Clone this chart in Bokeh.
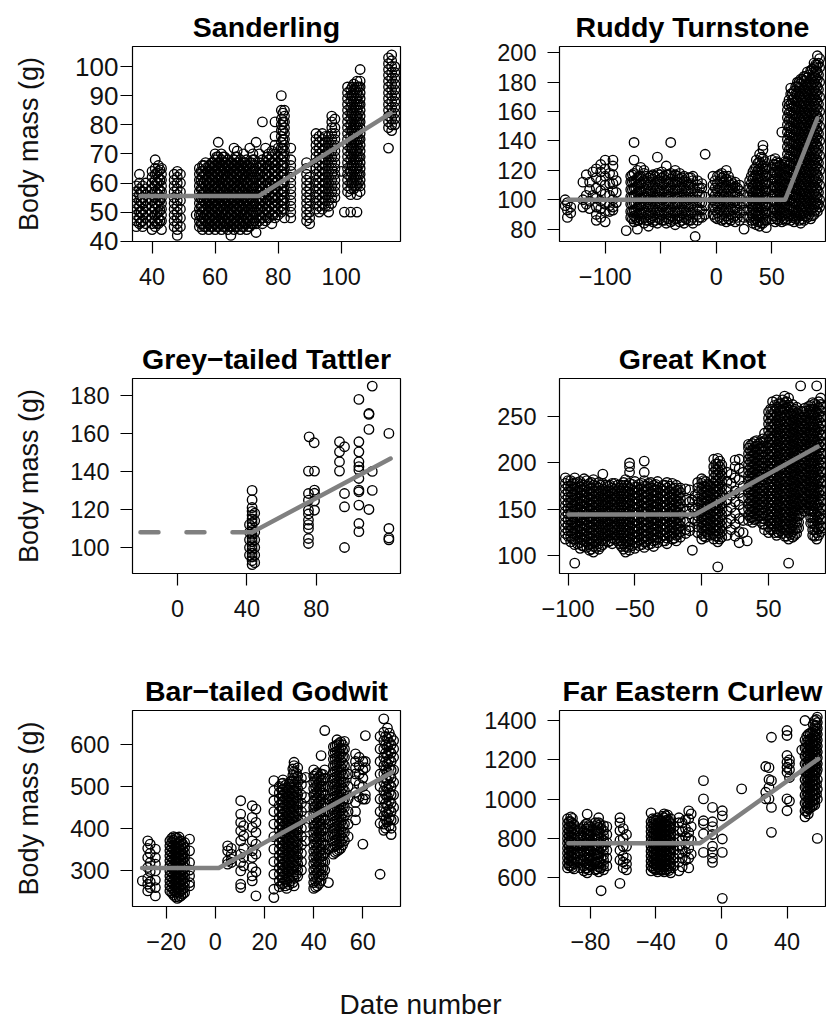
from bokeh.plotting import figure
from bokeh.layouts import gridplot, column
from bokeh.models import FixedTicker, Range1d, Label
from bokeh.embed import file_html
from bokeh.resources import INLINE

FONT = "Liberation Sans"

# ---------------- Sanderling ----------------
sand_day = [35, 36, 37, 38, 40, 41, 42, 43, 47, 48, 49, 54,
            55, 56, 57, 58, 59, 60, 61, 62, 63, 64, 65, 66, 67, 68, 69, 70, 71, 72, 73,
            74, 75, 76, 77, 78, 79, 80, 81, 82, 84, 89, 90,
            92, 93, 94, 95, 96, 97, 98, 100, 101, 103, 105,
            102, 103, 104, 105, 106, 115, 116, 117]
sand_mass = [
    [45, 47, 49, 51, 53, 55, 57, 59],
    [46, 48, 50, 52, 54, 56, 58, 60, 63],
    [45, 47, 49, 51, 53, 55, 57, 59],
    [46, 48, 50, 52, 54, 56, 58, 60],
    [44, 46, 48, 50, 52, 54, 56, 58, 60, 62, 64],
    [45, 47, 49, 51, 53, 55, 57, 59, 61, 63, 65, 68],
    [46, 48, 50, 52, 54, 56, 58, 60, 62, 64, 66],
    [44, 47, 49, 51, 53, 55, 57, 59, 61, 63, 65],
    [45, 47, 49, 51, 53, 55, 57, 59, 61, 63],
    [42, 44, 46, 48, 50, 52, 54, 56, 58, 60, 62, 64],
    [45, 48, 51, 54, 57, 60, 63],
    [49],
    [45, 47, 49, 51, 53, 55, 57, 59, 61, 63, 65],
    [44, 46, 48, 50, 52, 54, 56, 58, 60, 62, 64, 66],
    [45, 47, 49, 51, 53, 55, 57, 59, 61, 63, 65, 67],
    [44, 46, 48, 50, 52, 54, 56, 58, 60, 62, 64, 66],
    [45, 47, 49, 51, 53, 55, 57, 59, 61, 63, 65, 67],
    [44, 46, 48, 50, 52, 54, 56, 58, 60, 62, 64, 66, 68, 70],
    [45, 47, 49, 51, 53, 55, 57, 59, 61, 63, 65, 67, 69, 74],
    [44, 46, 48, 50, 52, 54, 56, 58, 60, 62, 64, 66, 68, 70],
    [45, 47, 49, 51, 53, 55, 57, 59, 61, 63, 65, 67, 69],
    [44, 46, 48, 50, 52, 54, 56, 58, 60, 62, 64, 66, 68],
    [42, 45, 47, 49, 51, 53, 55, 57, 59, 61, 63, 65, 67],
    [44, 46, 48, 50, 52, 54, 56, 58, 60, 62, 64, 66, 68, 72],
    [45, 47, 49, 51, 53, 55, 57, 59, 61, 63, 65, 67, 69, 71],
    [44, 46, 48, 50, 52, 54, 56, 58, 60, 62, 64, 66, 68],
    [45, 47, 49, 51, 53, 55, 57, 59, 61, 63, 65, 67, 70],
    [44, 46, 48, 50, 52, 54, 56, 58, 60, 62, 64, 66, 68],
    [45, 47, 49, 51, 53, 55, 57, 59, 61, 63, 65, 67, 72],
    [46, 48, 50, 52, 54, 56, 58, 60, 62, 64, 66, 68, 70],
    [43, 46, 48, 50, 52, 54, 56, 58, 60, 62, 64, 66, 74],
    [47, 49, 51, 53, 55, 57, 59, 61, 63, 65, 67, 70],
    [46, 48, 50, 52, 54, 56, 58, 60, 62, 64, 66, 68, 81],
    [47, 49, 51, 53, 55, 57, 59, 61, 63, 65, 67, 72],
    [48, 50, 52, 54, 56, 58, 60, 62, 64, 66, 68, 70],
    [46, 49, 51, 53, 55, 57, 59, 61, 63, 65, 67, 69, 71],
    [48, 50, 52, 54, 56, 58, 60, 62, 64, 66, 68, 70, 73, 76, 81],
    [49, 51, 53, 55, 57, 59, 61, 63, 65, 67, 69, 72],
    [50, 52, 54, 56, 58, 60, 62, 64, 66, 68, 70, 72, 74, 76, 78, 80, 82, 85, 90],
    [48, 51, 53, 55, 57, 59, 61, 63, 65, 67, 69, 71, 73, 75, 77, 79, 81, 83, 85],
    [48, 50, 52, 54, 56, 58, 60, 62, 64, 66, 68, 72],
    [47, 49, 51, 53, 55, 57, 59, 61, 63, 65, 67],
    [46, 48, 50, 52, 54, 56, 58, 60, 62],
    [51, 53, 55, 57, 59, 61, 63, 65, 67, 69, 71, 73, 75, 77],
    [50, 52, 54, 56, 58, 60, 62, 64, 66, 68, 70, 72, 74, 76],
    [51, 53, 55, 57, 59, 61, 63, 65, 67, 69, 71, 73, 75, 77],
    [52, 54, 56, 58, 60, 62, 64, 66, 68, 70, 72, 74, 76],
    [50, 52, 54, 56, 58, 60, 62, 64, 66, 68, 70, 72, 74, 76],
    [53, 55, 57, 59, 61, 63, 65, 67, 69, 71, 73, 75, 77, 79, 81, 83],
    [55, 57, 59, 61, 63, 65, 67, 69, 71, 73, 75, 77, 79, 82],
    [64],
    [50],
    [50],
    [50],
    [57, 59, 61, 63, 65, 67, 69, 71, 73, 75, 77, 79, 81, 83, 85, 87, 89, 91, 93],
    [56, 58, 60, 62, 64, 66, 68, 70, 72, 74, 76, 78, 80, 82, 84, 86, 88, 90, 92],
    [58, 60, 62, 64, 66, 68, 70, 72, 74, 76, 78, 80, 82, 84, 86, 88, 90, 92, 94],
    [56, 59, 61, 63, 65, 67, 69, 71, 73, 75, 77, 79, 81, 83, 85, 87, 89, 91, 93, 95],
    [57, 59, 61, 63, 65, 67, 69, 71, 73, 75, 77, 79, 81, 83, 85, 87, 89, 91, 93, 95, 99],
    [72, 79, 81, 83, 85, 87, 89, 91, 93, 95, 97, 99, 101, 103],
    [78, 80, 82, 84, 86, 88, 90, 92, 94, 96, 98, 100, 102, 104],
    [80, 82, 84, 86, 88, 90, 92, 94, 96, 98, 100],
]
# birds caught on the half-day columns of the densest catches
sand_day_b = [36.5, 41.5, 42.5, 55.5, 56.5, 57.5, 58.5, 59.5, 60.5, 61.5, 62.5, 63.5, 64.5,
              65.5, 66.5, 67.5, 68.5, 69.5, 70.5, 71.5, 72.5, 74.5, 76.5, 78.5, 81.5,
              103.5, 104.5, 105.5]
sand_mass_b = [
    [46.5, 50, 53.5, 57],
    [46, 49.5, 53, 56.5, 60, 63.5],
    [47, 50.5, 54, 57.5, 61, 64.5],
    [46, 49, 52, 55, 58, 61, 64],
    [45, 48, 51, 54, 57, 60, 63, 66],
    [46, 49, 52, 55, 58, 61, 64],
    [45, 48, 51, 54, 57, 60, 63, 66],
    [46, 49, 52, 55, 58, 61, 64, 67],
    [45, 48, 51, 54, 57, 60, 63, 66, 69],
    [46, 49, 52, 55, 58, 61, 64, 67],
    [45, 48, 51, 54, 57, 60, 63, 66, 69],
    [46, 49, 52, 55, 58, 61, 64, 67],
    [45, 48, 51, 54, 57, 60, 63, 66],
    [46, 49, 52, 55, 58, 61, 64, 67],
    [45, 48, 51, 54, 57, 60, 63, 66, 69],
    [46, 49, 52, 55, 58, 61, 64, 67],
    [45, 48, 51, 54, 57, 60, 63, 66],
    [46, 49, 52, 55, 58, 61, 64, 67],
    [45, 48, 51, 54, 57, 60, 63, 66],
    [46, 49, 52, 55, 58, 61, 64, 67],
    [47, 50, 53, 56, 59, 62, 65, 68],
    [48, 51, 54, 57, 60, 63, 66],
    [48, 51, 54, 57, 60, 63, 66, 69],
    [49, 52, 55, 58, 61, 64, 67],
    [51, 54, 57, 60, 63, 66, 69, 72, 75, 78, 81, 84],
    [60, 63, 66, 69, 72, 75, 78, 81, 84, 87, 90, 93],
    [59, 62, 65, 68, 71, 74, 77, 80, 83, 86, 89, 92],
    [60, 63, 66, 69, 72, 75, 78, 81, 84, 87, 90, 93],
]
sand_fit_day = [36.3, 73.8, 115.7]
sand_fit_mass = [55.5, 55.5, 84.0]
sand_xticks = [40, 60, 80, 100]
sand_yticks = [40, 50, 60, 70, 80, 90, 100]

# ---------------- Ruddy Turnstone ----------------
rudd_day = [-136, -134, -131, -120, -117, -114, -111, -108, -104, -100, -96, -93, -90,
            -81, -77, -74, -71, -68,
            -65, -61, -57, -53, -49, -45, -41, -37, -33, -29, -25, -21, -19, -17, -13, -10,
            -3, 1, 5, 9, 13, 17, 21, 25,
            30, 33, 36, 39, 42, 45,
            50, 53, 56, 59, 62,
            64, 67, 70, 73, 76, 79, 82, 85, 88, 91, 93]
rudd_mass = [
    [100, 96], [98, 93, 88], [95, 91],
    [112, 100, 95], [117, 103, 97], [112, 107, 99, 94], [119, 103],
    [121, 115, 108, 101, 95, 90, 86],
    [124, 119, 113, 106, 99, 94, 88],
    [127, 121, 116, 110, 104, 97, 92, 85],
    [118, 111, 103, 96, 92],
    [127, 123, 117, 111, 106, 100, 95, 93],
    [113, 105, 98],
    [79],
    [88, 92, 97, 102, 107, 112, 116],
    [85, 89, 93, 98, 103, 108, 113, 118, 127, 139],
    [86, 90, 95, 100, 105, 110, 115, 120, 80],
    [87, 91, 96, 101, 106, 111, 116, 122],
    [84, 88, 93, 98, 103, 108, 113, 118, 120],
    [86, 90, 95, 100, 105, 110, 115, 82],
    [85, 89, 94, 99, 104, 109, 114, 117],
    [84, 88, 93, 98, 103, 108, 113, 118, 129],
    [86, 90, 95, 100, 105, 110, 115, 119],
    [84, 88, 93, 98, 103, 108, 113, 117, 123],
    [85, 89, 94, 99, 104, 109, 114, 118, 139],
    [83, 87, 92, 97, 102, 107, 112, 117, 120],
    [85, 89, 94, 99, 104, 109, 114, 118],
    [84, 88, 93, 98, 103, 108, 113, 116],
    [86, 90, 95, 100, 105, 110, 115],
    [84, 88, 93, 98, 103, 108, 113, 116],
    [75],
    [86, 90, 95, 100, 105, 110, 113],
    [88, 93, 98, 103, 108, 111],
    [90, 96, 102, 131],
    [90, 95, 100, 105, 110, 116],
    [87, 91, 96, 101, 106, 111, 116],
    [86, 90, 95, 100, 105, 110, 115, 118],
    [85, 89, 94, 99, 104, 109, 114, 120],
    [86, 90, 95, 100, 105, 110, 113],
    [85, 89, 94, 99, 104, 109, 112],
    [86, 91, 96, 101, 106, 110],
    [88, 93, 98, 103, 80],
    [88, 93, 98, 103, 108, 113],
    [84, 89, 94, 99, 104, 109, 114, 119],
    [83, 87, 92, 97, 102, 107, 112, 117, 122, 127],
    [82, 86, 91, 96, 101, 106, 111, 116, 121, 126, 131],
    [84, 88, 93, 98, 103, 108, 113, 118, 123, 128, 134, 137],
    [86, 91, 96, 101, 106, 111, 116, 121, 81],
    [87, 92, 97, 102, 107, 112, 117, 122, 127],
    [85, 89, 94, 99, 104, 109, 114, 119, 124, 128],
    [86, 90, 95, 100, 105, 110, 115, 120, 125],
    [85, 89, 94, 99, 104, 109, 114, 119, 124, 146],
    [86, 91, 96, 101, 106, 111, 116, 121, 126],
    [87, 91, 96, 101, 106, 111, 116, 121, 126, 131, 136, 141, 146, 151, 156, 161, 165],
    [86, 90, 95, 100, 105, 110, 115, 120, 125, 130, 135, 140, 145, 150, 155, 160, 165, 172, 176],
    [85, 89, 94, 99, 104, 109, 114, 119, 124, 129, 134, 139, 144, 149, 154, 159, 164, 169, 174],
    [88, 92, 97, 102, 107, 112, 117, 122, 127, 132, 137, 142, 147, 152, 157, 162, 167, 172, 177, 180],
    [84, 89, 94, 99, 104, 109, 114, 119, 124, 129, 134, 139, 144, 149, 154, 159, 164, 169, 174, 179, 182],
    [86, 91, 96, 101, 106, 111, 116, 121, 126, 131, 136, 141, 146, 151, 156, 161, 166, 171, 176, 181, 184],
    [88, 93, 98, 103, 108, 113, 118, 123, 128, 133, 138, 143, 148, 153, 158, 163, 168, 173, 178, 183, 187],
    [87, 92, 97, 102, 107, 112, 117, 122, 127, 132, 137, 142, 147, 152, 157, 162, 167, 172, 177, 182, 188],
    [90, 95, 100, 105, 110, 115, 120, 125, 130, 135, 140, 145, 150, 155, 160, 165, 170, 175, 180, 185, 190, 193],
    [92, 97, 102, 107, 112, 117, 122, 127, 132, 137, 142, 147, 152, 157, 162, 167, 172, 177, 182, 187, 192, 198],
    [95, 100, 110, 120, 130, 140, 150, 160, 170, 180, 190, 196],
]
rudd_day_b = [-75.5, -72.5, -69.5,
              -63, -59, -55, -51, -47, -43, -39, -35, -31, -27, -23, -15,
              -1, 3, 7, 11, 15, 19,
              31.5, 34.5, 37.5, 40.5, 43.5,
              51.5, 54.5, 57.5, 60.5,
              65.5, 68.5, 71.5, 74.5, 77.5, 80.5, 83.5, 86.5, 89.5, 92]
rudd_mass_b = [
    [87, 92, 97, 102, 107, 112, 117],
    [88, 93, 98, 103, 108, 113],
    [86, 91, 96, 101, 106, 111, 116],
    [86, 91, 96, 101, 106, 111, 116],
    [87, 92, 97, 102, 107, 112, 116],
    [86, 91, 96, 101, 106, 111, 116],
    [87, 92, 97, 102, 107, 112, 117],
    [86, 91, 96, 101, 106, 111, 116],
    [87, 92, 97, 102, 107, 112, 117],
    [86, 91, 96, 101, 106, 111, 116],
    [87, 92, 97, 102, 107, 112, 116],
    [86, 91, 96, 101, 106, 111, 115],
    [87, 92, 97, 102, 107, 112],
    [86, 91, 96, 101, 106, 111, 115],
    [88, 93, 98, 103, 108],
    [88, 93, 98, 103, 108, 113],
    [88, 93, 98, 103, 108, 113, 117],
    [87, 92, 97, 102, 107, 112, 116],
    [87, 92, 97, 102, 107, 112, 116],
    [88, 93, 98, 103, 108, 111],
    [88, 93, 98, 103, 108],
    [86, 91, 96, 101, 106, 111, 116],
    [86, 91, 96, 101, 106, 111, 116, 121],
    [85, 90, 95, 100, 105, 110, 115, 120, 125],
    [84, 89, 94, 99, 104, 109, 114, 119, 124, 129],
    [86, 91, 96, 101, 106, 111, 116, 121, 126],
    [89, 94, 99, 104, 109, 114, 119, 124],
    [87, 92, 97, 102, 107, 112, 117, 122, 126],
    [88, 93, 98, 103, 108, 113, 118, 123],
    [87, 92, 97, 102, 107, 112, 117, 122],
    [89, 94, 99, 104, 109, 114, 119, 124, 129, 134, 139, 144, 149, 154, 159, 164, 168],
    [88, 93, 98, 103, 108, 113, 118, 123, 128, 133, 138, 143, 148, 153, 158, 163, 168, 172],
    [87, 92, 97, 102, 107, 112, 117, 122, 127, 132, 137, 142, 147, 152, 157, 162, 167, 172, 177],
    [86, 91, 96, 101, 106, 111, 116, 121, 126, 131, 136, 141, 146, 151, 156, 161, 166, 171, 176, 180],
    [87, 92, 97, 102, 107, 112, 117, 122, 127, 132, 137, 142, 147, 152, 157, 162, 167, 172, 177, 182],
    [89, 94, 99, 104, 109, 114, 119, 124, 129, 134, 139, 144, 149, 154, 159, 164, 169, 174, 179, 184],
    [90, 95, 100, 105, 110, 115, 120, 125, 130, 135, 140, 145, 150, 155, 160, 165, 170, 175, 180, 185],
    [89, 94, 99, 104, 109, 114, 119, 124, 129, 134, 139, 144, 149, 154, 159, 164, 169, 174, 179, 184, 189],
    [93, 98, 103, 108, 113, 118, 123, 128, 133, 138, 143, 148, 153, 158, 163, 168, 173, 178, 183, 188, 192],
    [97, 105, 115, 125, 135, 145, 155, 165, 175, 185, 193],
]
rudd_fit_day = [-133, 62, 91]
rudd_fit_mass = [100, 100, 155.5]
rudd_xticks = [-100, -50, 0, 50]
rudd_yticks = [80, 100, 120, 140, 160, 180, 200]

# ---------------- Grey-tailed Tattler ----------------
tatt_day = [41.5, 43, 44.5, 75.9, 78.8, 75.5, 79, 93.4, 96.3, 104.6, 110.4, 112.3, 121.9]
tatt_mass = [
    [96, 100, 104, 108, 112],
    [91, 93, 95, 97, 99, 101, 103, 105, 107, 109, 111, 113, 115, 117, 119, 121, 125, 130],
    [92, 96, 100, 104, 108, 114, 118],
    [158.2],
    [155.1],
    [140.2, 128.4, 124.9, 119.6, 117.6, 114.4, 112, 110, 104.7, 102.1],
    [140.2, 130.2, 128.5, 124.5, 119.6],
    [155.6, 150.3, 145.1, 140.2],
    [153, 128.4, 121.4, 100],
    [177.9, 155.6, 150.3, 145.1, 142.5, 140.7, 136.3, 130.2, 129.3, 122.3, 112.6, 108.3],
    [170, 170.5, 162.1, 120],
    [184.9, 140, 130],
    [160, 110, 105, 104],
]
tatt_day_b = []
tatt_mass_b = []
tatt_dash_day = [-21.4, 43]
tatt_dash_mass = [108, 108]
tatt_fit_day = [43, 122.9]
tatt_fit_mass = [108, 146.8]
tatt_xticks = [0, 40, 80]
tatt_yticks = [100, 120, 140, 160, 180]

# ---------------- Great Knot ----------------
knot_day = [-102, -98, -95, -91, -88, -84, -81, -77, -74, -70, -67, -63, -60, -57, -54, -50,
            -47, -43, -40, -36, -33, -29, -26, -22, -19, -16,
            -12, -9, -7, -5,
            -3, 0, 3, 6, 9, 12, 15,
            19, 22, 25, 28, 31, 34,
            35, 38, 41, 44, 47,
            50, 53, 56, 59, 62, 65, 68, 71, 74, 77, 80, 83, 86, 89]
knot_mass = [
    [118, 124, 130, 136, 142, 148, 154, 160, 166, 172, 178, 184],
    [115, 121, 127, 133, 139, 145, 151, 157, 163, 169, 175, 181],
    [112, 118, 124, 130, 136, 142, 148, 154, 160, 166, 172, 178, 184, 92],
    [108, 114, 120, 126, 132, 138, 144, 150, 156, 162, 168, 174, 180],
    [110, 116, 122, 128, 134, 140, 146, 152, 158, 164, 170, 176, 183],
    [106, 112, 118, 124, 130, 136, 142, 148, 154, 160, 166, 172, 178],
    [104, 110, 116, 122, 128, 134, 140, 146, 152, 158, 164, 170, 176, 182],
    [107, 113, 119, 125, 131, 137, 143, 149, 155, 161, 167, 173, 179],
    [112, 118, 124, 130, 136, 142, 148, 154, 160, 166, 172, 178, 188],
    [115, 121, 127, 133, 139, 145, 151, 157, 163, 169, 175],
    [113, 119, 125, 131, 137, 143, 149, 155, 161, 167, 173, 178],
    [116, 122, 128, 134, 140, 146, 152, 158, 164, 170, 176],
    [110, 116, 122, 128, 134, 140, 146, 152, 158, 164, 170, 176],
    [104, 110, 116, 122, 128, 134, 140, 146, 152, 158, 164, 170, 176, 182],
    [106, 112, 118, 124, 130, 136, 142, 148, 154, 160, 166, 172, 178, 190, 196, 200],
    [108, 114, 120, 126, 132, 138, 144, 150, 156, 162, 168, 174, 180],
    [111, 117, 123, 129, 135, 141, 147, 153, 159, 165, 171, 177],
    [109, 115, 121, 127, 133, 139, 145, 151, 157, 163, 169, 175, 181, 190, 202],
    [112, 118, 124, 130, 136, 142, 148, 154, 160, 166, 172, 178],
    [110, 116, 122, 128, 134, 140, 146, 152, 158, 164, 170, 176],
    [114, 120, 126, 132, 138, 144, 150, 156, 162, 168, 174, 180],
    [116, 122, 128, 134, 140, 146, 152, 158, 164, 170, 176],
    [113, 119, 125, 131, 137, 143, 149, 155, 161, 167, 173, 179],
    [118, 124, 130, 136, 142, 148, 154, 160, 166, 172, 178],
    [116, 122, 128, 134, 140, 146, 152, 158, 164, 170, 176],
    [120, 126, 132, 138, 144, 150, 156, 162, 168, 173],
    [172, 160, 148, 136, 128, 124],
    [171, 158, 145, 131, 127],
    [160, 152, 140, 106],
    [165, 150, 138],
    [125, 131, 137, 143, 149, 155, 161, 167, 173, 179],
    [118, 124, 130, 136, 142, 148, 154, 160, 166, 172, 178, 183],
    [120, 126, 132, 138, 144, 150, 156, 162, 168, 174, 180],
    [122, 128, 134, 140, 146, 152, 158, 164, 170, 176],
    [118, 124, 130, 136, 142, 148, 154, 160, 166, 172, 178, 184, 190, 196, 204],
    [115, 121, 127, 133, 139, 145, 151, 157, 163, 169, 175, 181, 187, 193, 199, 205, 88],
    [120, 126, 132, 138, 144, 150, 156, 162, 168, 174, 180, 186, 192, 198],
    [122, 135, 148, 160, 172, 180, 190],
    [128, 140, 152, 165, 178, 188],
    [121, 134, 146, 158, 170, 184, 196, 203],
    [114, 126, 140, 155, 168, 182, 194, 204],
    [125, 138, 150, 162, 175, 190],
    [116],
    [138, 144, 150, 156, 162, 168, 174, 180, 186, 192, 198, 204, 210, 216, 220],
    [136, 142, 148, 154, 160, 166, 172, 178, 184, 190, 196, 202, 208, 214, 221],
    [140, 146, 152, 158, 164, 170, 176, 182, 188, 194, 200, 206, 212, 218, 224],
    [137, 143, 149, 155, 161, 167, 173, 179, 185, 191, 197, 203, 209, 215, 222],
    [128, 134, 140, 146, 152, 158, 164, 170, 176, 182, 188, 194, 200, 206, 212, 218, 224, 232],
    [125, 131, 138, 144, 151, 157, 164, 170, 177, 183, 190, 196, 203, 209, 216, 222, 229, 235, 242, 248, 255],
    [128, 134, 141, 147, 154, 160, 167, 173, 180, 186, 193, 199, 206, 212, 219, 225, 232, 238, 245, 251, 258, 266],
    [122, 129, 135, 142, 148, 155, 161, 168, 174, 181, 187, 194, 200, 207, 213, 220, 226, 233, 239, 246, 252, 260, 268],
    [127, 133, 140, 146, 153, 159, 166, 172, 179, 185, 192, 198, 205, 211, 218, 224, 231, 237, 244, 250, 257, 264],
    [121, 128, 134, 141, 147, 154, 160, 167, 173, 180, 186, 193, 199, 206, 212, 219, 225, 232, 238, 245, 251, 258, 265, 272],
    [118, 125, 131, 138, 144, 151, 157, 164, 170, 177, 183, 190, 196, 203, 209, 216, 222, 229, 235, 242, 248, 255, 262, 270, 92],
    [120, 126, 133, 139, 146, 152, 159, 165, 172, 178, 185, 191, 198, 204, 211, 217, 224, 230, 237, 243, 250, 256, 263],
    [124, 130, 137, 143, 150, 156, 163, 169, 176, 182, 189, 195, 202, 208, 215, 221, 228, 234, 241, 247, 254, 260],
    [145, 152, 158, 165, 171, 178, 184, 191, 197, 204, 210, 217, 223, 230, 236, 243, 249, 256, 283],
    [148, 155, 161, 168, 174, 181, 187, 194, 200, 207, 213, 220, 226, 233, 239, 246, 252, 259],
    [150, 156, 163, 169, 176, 182, 189, 195, 202, 208, 215, 221, 228, 234, 241, 247, 254, 261],
    [122, 128, 135, 141, 148, 154, 161, 167, 174, 180, 187, 193, 200, 206, 213, 219, 226, 232, 239, 245, 252, 258, 265],
    [118, 125, 131, 138, 144, 151, 157, 164, 170, 177, 183, 190, 196, 203, 209, 216, 222, 229, 235, 242, 248, 255, 262, 283],
    [126, 132, 139, 145, 152, 158, 165, 171, 178, 184, 191, 197, 204, 210, 217, 223, 230, 236, 243, 249, 256, 263, 270],
]
knot_day_b = [-100, -96.5, -93, -89.5, -86, -82.5, -79, -75.5, -72, -68.5, -65, -61.5,
              -58.5, -55.5, -52, -48.5, -45, -41.5, -38, -34.5, -31, -27.5, -24, -20.5, -17.5,
              1.5, 4.5, 10.5, 13.5, 36.5, 39.5, 42.5, 45.5,
              51.5, 54.5, 57.5, 60.5, 63.5, 66.5, 69.5, 72.5, 75.5, 78.5, 81.5, 84.5, 87.5, 90.5]
knot_mass_b = [
    [121, 127, 133, 139, 145, 151, 157, 163, 169, 175, 181],
    [118, 124, 130, 136, 142, 148, 154, 160, 166, 172, 178],
    [113, 119, 125, 131, 137, 143, 149, 155, 161, 167, 173, 179],
    [111, 117, 123, 129, 135, 141, 147, 153, 159, 165, 171, 177],
    [109, 115, 121, 127, 133, 139, 145, 151, 157, 163, 169, 175, 181],
    [107, 113, 119, 125, 131, 137, 143, 149, 155, 161, 167, 173, 179],
    [109, 115, 121, 127, 133, 139, 145, 151, 157, 163, 169, 175],
    [110, 116, 122, 128, 134, 140, 146, 152, 158, 164, 170, 176],
    [116, 122, 128, 134, 140, 146, 152, 158, 164, 170, 176],
    [116, 122, 128, 134, 140, 146, 152, 158, 164, 170, 176],
    [118, 124, 130, 136, 142, 148, 154, 160, 166, 172, 178],
    [113, 119, 125, 131, 137, 143, 149, 155, 161, 167, 173],
    [107, 113, 119, 125, 131, 137, 143, 149, 155, 161, 167, 173, 179],
    [109, 115, 121, 127, 133, 139, 145, 151, 157, 163, 169, 175],
    [111, 117, 123, 129, 135, 141, 147, 153, 159, 165, 171, 177],
    [114, 120, 126, 132, 138, 144, 150, 156, 162, 168, 174],
    [112, 118, 124, 130, 136, 142, 148, 154, 160, 166, 172, 178],
    [115, 121, 127, 133, 139, 145, 151, 157, 163, 169, 175],
    [113, 119, 125, 131, 137, 143, 149, 155, 161, 167, 173, 179],
    [117, 123, 129, 135, 141, 147, 153, 159, 165, 171, 177],
    [119, 125, 131, 137, 143, 149, 155, 161, 167, 173],
    [116, 122, 128, 134, 140, 146, 152, 158, 164, 170, 176],
    [121, 127, 133, 139, 145, 151, 157, 163, 169, 175],
    [119, 125, 131, 137, 143, 149, 155, 161, 167, 173],
    [123, 129, 135, 141, 147, 153, 159, 165, 171],
    [121, 127, 133, 139, 145, 151, 157, 163, 169, 175, 181],
    [123, 129, 135, 141, 147, 153, 159, 165, 171, 177],
    [121, 127, 133, 139, 145, 151, 157, 163, 169, 175, 181, 187, 193, 199],
    [118, 124, 130, 136, 142, 148, 154, 160, 166, 172, 178, 184, 190, 196, 202],
    [141, 147, 153, 159, 165, 171, 177, 183, 189, 195, 201, 207, 213, 219],
    [139, 145, 151, 157, 163, 169, 175, 181, 187, 193, 199, 205, 211, 217, 223],
    [143, 149, 155, 161, 167, 173, 179, 185, 191, 197, 203, 209, 215, 221],
    [134, 140, 146, 152, 158, 164, 170, 176, 182, 188, 194, 200, 206, 212, 218, 226],
    [128, 135, 141, 148, 154, 161, 167, 174, 180, 187, 193, 200, 206, 213, 219, 226, 232, 239, 245, 252, 258],
    [125, 132, 138, 145, 151, 158, 164, 171, 177, 184, 190, 197, 203, 210, 216, 223, 229, 236, 242, 249, 255, 262],
    [125, 132, 138, 145, 151, 158, 164, 171, 177, 184, 190, 197, 203, 210, 216, 223, 229, 236, 242, 249, 256, 264],
    [124, 131, 137, 144, 150, 157, 163, 170, 176, 183, 189, 196, 202, 209, 215, 222, 228, 235, 241, 248, 254, 261, 268],
    [121, 128, 134, 141, 147, 154, 160, 167, 173, 180, 186, 193, 199, 206, 212, 219, 225, 232, 238, 245, 252, 259, 266],
    [123, 129, 136, 142, 149, 155, 162, 168, 175, 181, 188, 194, 201, 207, 214, 220, 227, 233, 240, 246, 253, 260],
    [122, 128, 135, 141, 148, 154, 161, 167, 174, 180, 187, 193, 200, 206, 213, 219, 226, 232, 239, 245, 252, 258],
    [130, 136, 143, 149, 156, 162, 169, 175, 182, 188, 195, 201, 208, 214, 221, 227, 234, 240, 247, 253],
    [151, 158, 164, 171, 177, 184, 190, 197, 203, 210, 216, 223, 229, 236, 242, 249, 255],
    [152, 158, 165, 171, 178, 184, 191, 197, 204, 210, 217, 223, 230, 236, 243, 249, 256],
    [135, 141, 148, 154, 161, 167, 174, 180, 187, 193, 200, 206, 213, 219, 226, 232, 239, 245, 252, 258, 262],
    [121, 128, 134, 141, 147, 154, 160, 167, 173, 180, 186, 193, 199, 206, 212, 219, 225, 232, 238, 245, 251, 258, 264],
    [122, 129, 135, 142, 148, 155, 161, 168, 174, 181, 187, 194, 200, 207, 213, 220, 226, 233, 239, 246, 252, 259, 266],
    [130, 140, 150, 160, 170, 180, 190, 200, 210, 220, 230, 240, 250, 260],
]
knot_fit_day = [-99.6, -4.9, 86.7]
knot_fit_mass = [144.5, 144.5, 217.5]
knot_xticks = [-100, -50, 0, 50]
knot_yticks = [100, 150, 200, 250]

# ---------------- Bar-tailed Godwit ----------------
godw_day = [-29.7, -27.5, -26.5, -24.4, -18.5, -17, -15.5, -14, -12.5, -10.5,
            5, 6.5, 10.3, 11.5, 15, 16.5, 23.8,
            26, 27.5, 29, 30.5, 32, 33.5, 35, 36.7,
            40, 41.5, 43, 44.5, 46,
            48, 49.5, 51, 52.5, 54, 57, 58.5, 60, 61,
            67, 68.5, 70, 71.5, 72.5]
godw_mass = [
    [274],
    [370, 352, 330, 306, 280, 266, 250],
    [362, 340, 318, 296, 272, 258],
    [350, 330, 314, 298, 276, 258, 238],
    [250, 262, 274, 286, 298, 310, 322, 334, 346, 358, 370],
    [240, 252, 264, 276, 288, 300, 312, 324, 336, 348, 360, 372, 380],
    [232, 244, 256, 268, 280, 292, 304, 316, 328, 340, 352, 364, 376],
    [238, 250, 262, 274, 286, 298, 310, 322, 334, 346, 358, 370],
    [246, 258, 270, 282, 294, 306, 318, 330, 342, 354, 366],
    [374, 346, 318, 286, 262, 270, 300],
    [358, 346, 322, 314],
    [352, 338, 326, 318],
    [466, 434, 414, 394, 370, 338, 318, 298, 266, 258],
    [406, 382, 352, 330, 310],
    [454, 426, 402, 370, 346, 330, 306, 286, 274],
    [446, 414, 390, 362, 338, 296, 238],
    [514, 490, 466, 440, 410, 380, 350, 320, 290, 254, 234],
    [260, 275, 290, 305, 320, 335, 350, 365, 380, 395, 410, 425, 440, 455, 470, 485, 500],
    [268, 283, 298, 313, 328, 343, 358, 373, 388, 403, 418, 433, 448, 463, 478, 493, 508, 516],
    [256, 271, 286, 301, 316, 331, 346, 361, 376, 391, 406, 421, 436, 451, 466, 481, 496],
    [274, 289, 304, 319, 334, 349, 364, 379, 394, 409, 424, 439, 454, 469, 484, 499, 512],
    [262, 280, 295, 310, 325, 340, 355, 370, 385, 400, 415, 430, 445, 460, 475, 490, 505, 520, 535, 550, 558],
    [285, 300, 315, 330, 345, 360, 375, 390, 405, 420, 435, 450, 465, 480, 495, 510, 525, 545],
    [300, 320, 340, 360, 380, 400, 420, 440, 460, 480, 505, 520],
    [522, 474, 450, 402, 370],
    [256, 270, 285, 300, 315, 330, 345, 360, 375, 390, 405, 420, 435, 450, 465, 480, 495, 510, 525, 540],
    [262, 278, 293, 308, 323, 338, 353, 368, 383, 398, 413, 428, 443, 458, 473, 488, 503, 518, 533],
    [275, 290, 305, 320, 335, 350, 365, 380, 395, 410, 425, 440, 455, 470, 485, 500, 515, 530, 574],
    [300, 320, 340, 360, 380, 400, 420, 440, 460, 480, 500, 520, 540, 634],
    [270, 350, 380, 410, 440, 470, 500],
    [338, 355, 370, 385, 400, 415, 430, 445, 460, 475, 490, 505, 520, 535, 550, 565, 580, 595],
    [345, 360, 375, 390, 405, 420, 435, 450, 465, 480, 495, 510, 525, 540, 555, 570, 585, 600, 612],
    [352, 367, 382, 397, 412, 427, 442, 457, 472, 487, 502, 517, 532, 547, 562, 577, 592, 607],
    [370, 390, 410, 430, 450, 470, 490, 510, 530, 550, 570, 590, 608],
    [380, 410, 440, 470, 500, 530],
    [578, 560, 545, 530, 514, 486, 462, 440, 420],
    [570, 550, 530, 505, 475],
    [560, 540, 520, 500, 470, 362],
    [622, 560, 545, 480, 470],
    [290, 412, 440, 470, 500, 530, 560, 590, 620],
    [662, 630, 610, 590, 570, 550, 530, 510, 490, 470, 450, 430, 410, 395],
    [640, 615, 595, 575, 555, 535, 515, 495, 475, 455, 435, 415],
    [618, 600, 580, 560, 540, 520, 500, 480, 460, 440, 420, 400, 385],
    [610, 590, 570, 540, 510, 480, 450, 420],
]
godw_day_b = [-17.75, -16.25, -14.75, -13.25, 27, 28.5, 30, 31.5, 33,
              40.75, 42.25, 43.75, 48.75, 50.25, 51.75, 69.25, 70.75]
godw_mass_b = [
    [246, 258, 270, 282, 294, 306, 318, 330, 342, 354, 366, 376],
    [236, 248, 260, 272, 284, 296, 308, 320, 332, 344, 356, 368, 378],
    [235, 247, 259, 271, 283, 295, 307, 319, 331, 343, 355, 367, 379],
    [242, 254, 266, 278, 290, 302, 314, 326, 338, 350, 362],
    [266, 282, 297, 312, 327, 342, 357, 372, 387, 402, 417, 432, 447, 462, 477, 492, 507],
    [262, 278, 293, 308, 323, 338, 353, 368, 383, 398, 413, 428, 443, 458, 473, 488, 503],
    [265, 281, 296, 311, 326, 341, 356, 371, 386, 401, 416, 431, 446, 461, 476, 491, 506],
    [270, 287, 302, 317, 332, 347, 362, 377, 392, 407, 422, 437, 452, 467, 482, 497, 512, 527, 542],
    [290, 307, 322, 337, 352, 367, 382, 397, 412, 427, 442, 457, 472, 487, 502, 517, 532],
    [259, 274, 289, 304, 319, 334, 349, 364, 379, 394, 409, 424, 439, 454, 469, 484, 499, 514, 529],
    [268, 284, 299, 314, 329, 344, 359, 374, 389, 404, 419, 434, 449, 464, 479, 494, 509, 524],
    [288, 304, 319, 334, 349, 364, 379, 394, 409, 424, 439, 454, 469, 484, 499, 514, 529],
    [342, 357, 372, 387, 402, 417, 432, 447, 462, 477, 492, 507, 522, 537, 552, 567, 582, 597],
    [348, 363, 378, 393, 408, 423, 438, 453, 468, 483, 498, 513, 528, 543, 558, 573, 588, 603],
    [360, 376, 391, 406, 421, 436, 451, 466, 481, 496, 511, 526, 541, 556, 571, 586, 600],
    [620, 600, 580, 560, 540, 520, 500, 480, 460, 440, 420, 400],
    [628, 605, 585, 565, 545, 525, 505, 485, 465, 445, 425, 405],
]
godw_fit_day = [-29.8, 1.4, 71.9]
godw_fit_mass = [305, 305, 534]
godw_xticks = [-20, 0, 20, 40, 60]
godw_yticks = [300, 400, 500, 600]

# ---------------- Far Eastern Curlew ----------------
curl_day = [-94, -92, -90, -88, -86, -84, -82, -80, -77, -75, -73.5, -72, -70,
            -62, -60, -58,
            -43, -41, -39, -37, -35, -33, -31, -29, -26, -24, -22, -20, -18.5,
            -11, -5.5, 0.5, 12.3, 27, 29, 30.5, 40, 41.5,
            49, 51, 53, 55, 57, 58.5]
curl_mass = [
    [650, 675, 700, 725, 750, 775, 800, 825, 850, 875, 900],
    [660, 685, 710, 735, 760, 785, 810, 835, 860, 885, 910],
    [645, 670, 695, 720, 745, 770, 795, 820, 845, 870],
    [680, 720, 760, 800, 840],
    [650, 690, 730, 770, 810, 850],
    [635, 660, 685, 710, 735, 760, 785, 810, 835, 860],
    [625, 650, 675, 700, 725, 750, 775, 800, 825, 850, 875, 924],
    [660, 700, 740, 780, 820, 860],
    [640, 680, 720, 760, 800, 840, 880],
    [630, 655, 680, 705, 730, 755, 780, 805, 830, 855, 880, 905],
    [534, 650, 700, 750, 800, 850],
    [640, 665, 690, 715, 740, 765, 790, 815, 840, 865],
    [660, 700, 740, 780, 820, 860],
    [571, 690, 740, 790, 840, 880, 905],
    [650, 680, 710, 760, 800, 850],
    [640, 670, 700, 760, 820],
    [635, 660, 685, 710, 735, 760, 785, 810, 835, 860, 885, 930],
    [645, 670, 695, 720, 745, 770, 795, 820, 845, 870, 895],
    [630, 655, 680, 705, 730, 755, 780, 805, 830, 855, 880, 905],
    [640, 665, 690, 715, 740, 765, 790, 815, 840, 865, 890],
    [630, 655, 680, 705, 730, 755, 780, 805, 830, 855, 880, 905, 925],
    [645, 670, 695, 720, 745, 770, 795, 820, 845, 870, 895, 920],
    [625, 650, 675, 700, 725, 750, 775, 800, 825, 850, 875, 900],
    [660, 700, 740, 780, 820, 860],
    [635, 680, 720, 760, 800, 840, 880, 905],
    [655, 700, 745, 790, 835, 880],
    [690, 730, 770, 810, 850, 895],
    [650, 700, 750, 800, 830, 900, 940],
    [720, 790, 860, 925],
    [1094, 1001, 890, 875, 823, 729],
    [958, 885, 860, 820, 760, 730, 700, 678],
    [941, 915, 797, 729, 495],
    [1052],
    [1166, 1035, 1001],
    [1160, 1100, 1060, 1001],
    [1315, 1094, 958, 831],
    [1349, 1324, 1222, 1188, 1162, 1137, 1001, 941],
    [1200, 1180, 1150, 1110, 990],
    [1250],
    [1400, 1300, 1260, 1220, 1180, 1140, 1100, 1060, 1020, 980, 940, 910],
    [1330, 1300, 1275, 1250, 1225, 1200, 1175, 1150, 1125, 1100, 1075, 1050, 1025, 1000, 975, 950, 925],
    [1340, 1310, 1285, 1260, 1235, 1210, 1185, 1160, 1135, 1110, 1085, 1060, 1035, 1010, 985, 960],
    [1400, 1370, 1345, 1320, 1295, 1270, 1245, 1220, 1195, 1170, 1145, 1120, 1095, 1070, 1045, 1020, 995, 970],
    [1417, 1390, 1360, 1330, 1300, 1270, 1240, 1210, 1180, 1150, 1100, 1050, 1000, 800],
]
curl_day_b = [-93, -91, -83, -81, -76, -74, -42, -40, -38, -36, -34, -32, 52, 54, 56, 58]
curl_mass_b = [
    [662, 687, 712, 737, 762, 787, 812, 837, 862, 887],
    [652, 677, 702, 727, 752, 777, 802, 827, 852, 877, 902],
    [647, 672, 697, 722, 747, 772, 797, 822, 847, 872],
    [640, 665, 690, 715, 740, 765, 790, 815, 840, 865],
    [645, 670, 695, 720, 745, 770, 795, 820, 845, 870],
    [650, 675, 725, 775, 825, 870],
    [650, 675, 700, 725, 750, 775, 800, 825, 850, 875, 900],
    [640, 665, 690, 715, 740, 765, 790, 815, 840, 865, 890],
    [645, 670, 695, 720, 745, 770, 795, 820, 845, 870, 895],
    [638, 663, 688, 713, 738, 763, 788, 813, 838, 863, 888, 913],
    [640, 665, 690, 715, 740, 765, 790, 815, 840, 865, 890, 915],
    [637, 662, 687, 712, 737, 762, 787, 812, 837, 862, 887],
    [1320, 1290, 1262, 1237, 1212, 1187, 1162, 1137, 1112, 1087, 1062, 1037, 1012, 987, 962, 937],
    [1335, 1305, 1280, 1255, 1230, 1205, 1180, 1155, 1130, 1105, 1080, 1055, 1030, 1005, 980, 955],
    [1380, 1350, 1322, 1297, 1272, 1247, 1222, 1197, 1172, 1147, 1122, 1097, 1072, 1047, 1022, 997, 972],
    [1405, 1375, 1345, 1315, 1285, 1255, 1225, 1195, 1165, 1135, 1075, 1025],
]
curl_fit_day = [-93.4, -13.1, 59.1]
curl_fit_mass = [776, 776, 1205]
curl_xticks = [-80, -40, 0, 40]
curl_yticks = [600, 800, 1000, 1200, 1400]

FIT_COLOR = "#808080"


def flatten(days, mass):
    xs, ys = [], []
    for d, ms in zip(days, mass):
        xs.extend([d] * len(ms))
        ys.extend(ms)
    return xs, ys


def minus_overrides(ticks, hide=()):
    out = {}
    for t in ticks:
        if t in hide:
            out[t] = ""
        elif t < 0:
            out[t] = "\u2212" + str(abs(t))
    return out


def panel(title, xr, yr, xticks, yticks, days, mass, fit_x, fit_y, left,
          height, bottom, hide=(), dash_x=None, dash_y=None,
          ylab_size="23.5px", ylab_standoff=11, axlab_standoff=23):
    if left:
        w, mbl, mbr = 413, 132, 13
    else:
        w, mbl, mbr = 413, 146, 1
    p = figure(width=w, height=height, x_range=Range1d(*xr), y_range=Range1d(*yr),
               output_backend="svg", toolbar_location=None,
               min_border_left=mbl, min_border_right=mbr,
               min_border_top=46, min_border_bottom=bottom)
    p.title.text = title
    p.title.align = "center"
    p.title.text_font = FONT
    p.title.text_font_size = "28.5px"
    p.title.text_font_style = "bold"
    p.title.text_color = "black"
    p.title.standoff = 8
    p.xgrid.visible = False
    p.ygrid.visible = False
    p.outline_line_color = "black"
    p.outline_line_width = 1.2
    p.background_fill_color = "white"
    p.border_fill_color = "white"

    p.xaxis.ticker = FixedTicker(ticks=xticks, minor_ticks=[])
    p.yaxis.ticker = FixedTicker(ticks=yticks, minor_ticks=[])
    p.xaxis.major_label_overrides = minus_overrides(xticks, hide)
    for ax in (p.xaxis, p.yaxis):
        ax.axis_line_color = None
        ax.major_tick_out = 12
        ax.major_tick_in = 0
        ax.major_tick_line_color = "black"
        ax.major_tick_line_width = 1.2
        ax.minor_tick_out = 0
        ax.minor_tick_in = 0
        ax.major_label_text_font = FONT
        ax.major_label_text_color = "#111111"
    p.xaxis.major_label_text_font_size = "23.5px"
    p.yaxis.major_label_text_font_size = ylab_size
    p.xaxis.major_label_standoff = 14
    p.yaxis.major_label_standoff = ylab_standoff
    if left:
        p.yaxis.axis_label = "Body mass (g)"
        p.yaxis.axis_label_text_font = FONT
        p.yaxis.axis_label_text_font_size = "27px"
        p.yaxis.axis_label_text_font_style = "normal"
        p.yaxis.axis_label_text_color = "#111111"
        p.yaxis.axis_label_standoff = axlab_standoff

    xs, ys = flatten(days, mass)
    p.scatter(xs, ys, marker="circle", size=9.5, fill_color=None,
              line_color="black", line_width=1.35)
    if dash_x is not None:
        p.line(dash_x, dash_y, line_color=FIT_COLOR, line_width=4.5,
               line_dash="18 28", line_cap="round")
    p.line(fit_x, fit_y, line_color=FIT_COLOR, line_width=4.5, line_cap="round",
           line_join="round")
    return p


p1 = panel("Sanderling", (33.8, 118.8), (39.9, 106.9), sand_xticks, sand_yticks,
           sand_day + sand_day_b, sand_mass + sand_mass_b, sand_fit_day, sand_fit_mass,
           True, 332, 91, ylab_size="26px", ylab_standoff=2, axlab_standoff=28)
p2 = panel("Ruddy Turnstone", (-141.1, 98.3), (71.6, 204.3), rudd_xticks, rudd_yticks,
           rudd_day + rudd_day_b, rudd_mass + rudd_mass_b, rudd_fit_day, rudd_fit_mass,
           False, 332, 91, hide=(-50,))
p3 = panel("Grey\u2212tailed Tattler", (-26, 128.6), (86.3, 188.9), tatt_xticks, tatt_yticks,
           tatt_day + tatt_day_b, tatt_mass + tatt_mass_b, tatt_fit_day, tatt_fit_mass,
           True, 332, 91, dash_x=tatt_dash_day, dash_y=tatt_dash_mass)
p4 = panel("Great Knot", (-106.4, 92.6), (80.9, 291), knot_xticks, knot_yticks,
           knot_day + knot_day_b, knot_mass + knot_mass_b, knot_fit_day, knot_fit_mass,
           False, 332, 91)
p5 = panel("Bar\u2212tailed Godwit", (-33.7, 75.3), (212.7, 682), godw_xticks, godw_yticks,
           godw_day + godw_day_b, godw_mass + godw_mass_b, godw_fit_day, godw_fit_mass,
           True, 302, 60)
p6 = panel("Far Eastern Curlew", (-98.9, 63.5), (453.6, 1451), curl_xticks, curl_yticks,
           curl_day + curl_day_b, curl_mass + curl_mass_b, curl_fit_day, curl_fit_mass,
           False, 302, 60)

foot = figure(width=826, height=53, x_range=Range1d(0, 1), y_range=Range1d(0, 1),
              output_backend="svg", toolbar_location=None,
              min_border_left=0, min_border_right=0, min_border_top=0, min_border_bottom=0)
foot.axis.visible = False
foot.grid.visible = False
foot.outline_line_color = None
foot.add_layout(Label(x=0.5085, y=0.283, text="Date number", text_align="center",
                      text_baseline="middle", text_font=FONT,
                      text_font_size="28px", text_color="#111111"))

grid = gridplot([[p1, p2], [p3, p4], [p5, p6]], toolbar_location=None)
layout = column(grid, foot)

open("out.html", "w").write(file_html(layout, INLINE))
